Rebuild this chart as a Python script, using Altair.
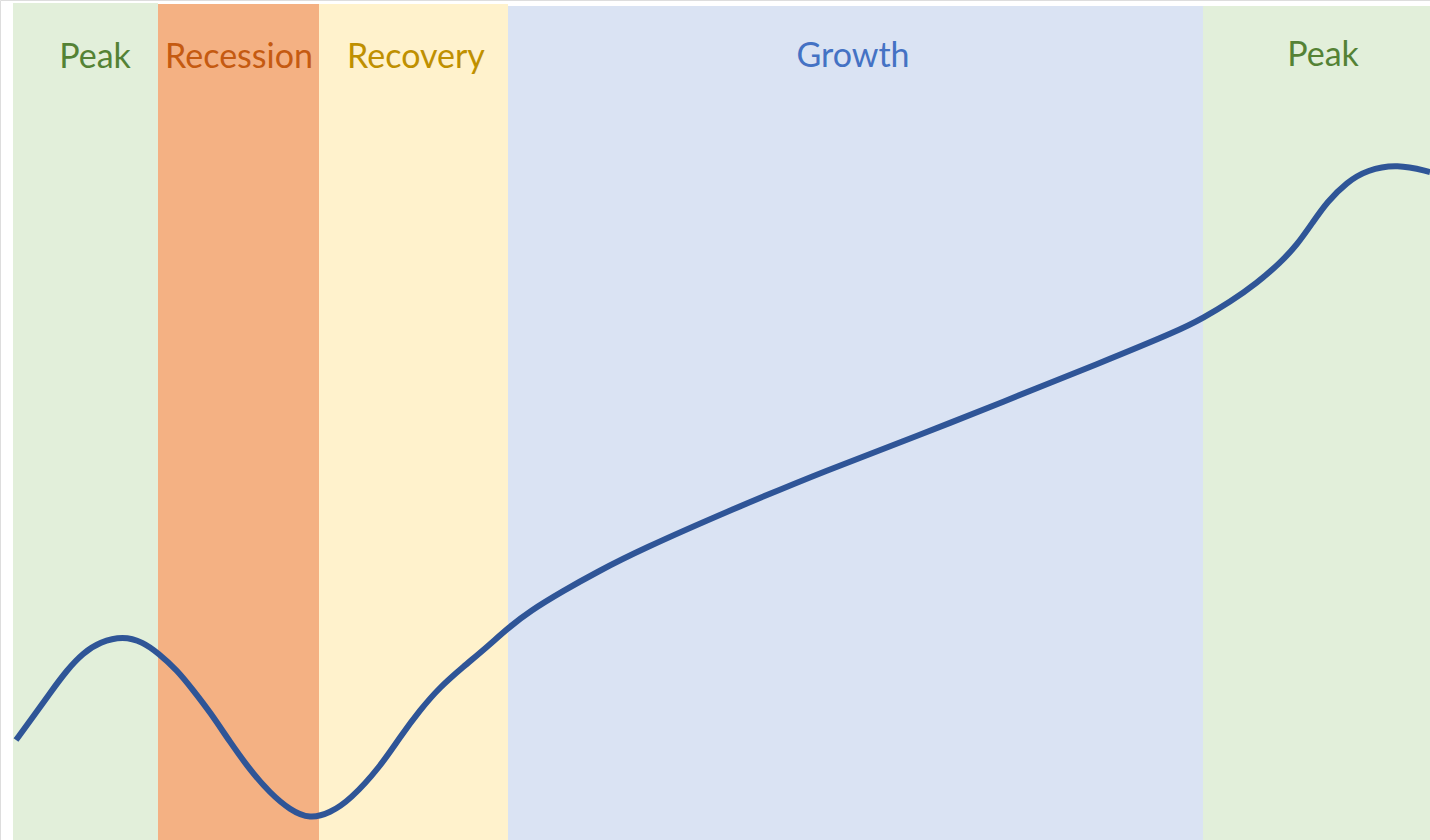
import altair as alt
import pandas as pd

# Phase bands
phase_names = ["Peak", "Recession", "Recovery", "Growth", "Peak"]
phase_start = [13, 158, 319, 508, 1203]
phase_end = [158, 319, 508, 1203, 1430]
phase_top = [837, 836, 836, 834, 834]
band_colors = ["#E2EFDA", "#F4B183", "#FFF2CC", "#DAE3F3", "#E2EFDA"]
text_colors = ["#548235", "#C55A11", "#BF9000", "#4472C4", "#548235"]
label_x = [95, 239, 416, 853, 1323]
label_y = [782, 782, 782, 783, 784]

# Business-cycle curve (time, level)
curve_t = [16, 33, 50, 67, 83, 100, 123, 143, 158, 177, 193, 210, 230, 250, 270, 290,
           310, 330, 350, 380, 400, 420, 440, 463, 487, 508, 530, 563, 597, 640, 733,
           827, 920, 1000, 1100, 1180, 1203, 1230, 1257, 1280, 1297, 1313, 1327, 1347,
           1367, 1397, 1430]
curve_v = [100, 123, 147, 170, 187, 198, 204, 198, 187, 170, 150, 128, 98, 70, 47, 30,
           21, 27, 40, 73, 103, 130, 153, 173, 193, 212, 229, 249, 268, 290, 331,
           370, 405, 437, 477, 510, 522, 538, 557, 577, 595, 618, 638, 658,
           670, 676, 668]

bands = pd.DataFrame({
    "phase": phase_names, "start": phase_start, "end": phase_end, "top": phase_top,
    "fill": band_colors, "tcolor": text_colors, "lx": label_x, "ly": label_y,
})
curve = pd.DataFrame({"t": curve_t, "v": curve_v})

xs = alt.Scale(domain=[0, 1430], nice=False, zero=False)
ys = alt.Scale(domain=[0, 840], nice=False, zero=False)

rects = alt.Chart(bands).mark_rect().encode(
    x=alt.X("start:Q", scale=xs, axis=None),
    x2="end:Q",
    y=alt.Y("top:Q", scale=ys, axis=None),
    y2=alt.datum(0),
    color=alt.Color("fill:N", scale=None),
)

labels = alt.Chart(bands).mark_text(
    font="Lato", fontSize=34, baseline="middle", align="center"
).encode(
    x=alt.X("lx:Q", scale=xs, axis=None),
    y=alt.Y("ly:Q", scale=ys, axis=None),
    text="phase:N",
    color=alt.Color("tcolor:N", scale=None),
)

line = alt.Chart(curve).mark_line(
    color="#2F5597", strokeWidth=6, interpolate="basis", clip=True
).encode(
    x=alt.X("t:Q", scale=xs, axis=None),
    y=alt.Y("v:Q", scale=ys, axis=None),
)

chart = alt.layer(rects, labels, line).properties(
    width=1430, height=840, padding=0, autosize=alt.AutoSizeParams(type="none")
).configure_view(stroke=None).configure(background="white")

chart.save("out.html", embed_options={"renderer": "svg", "actions": False})
